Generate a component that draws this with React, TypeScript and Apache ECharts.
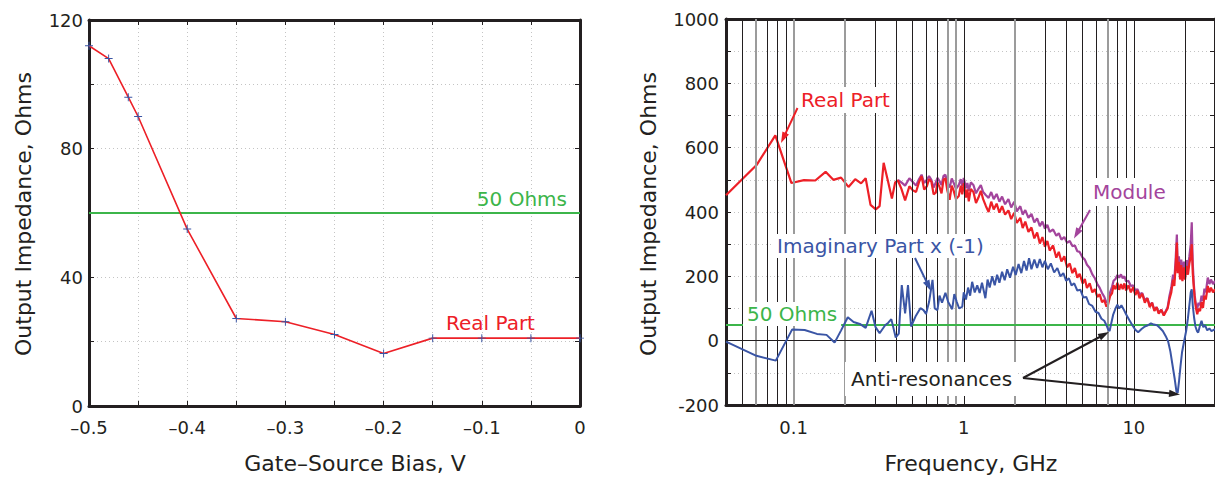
import React, { useEffect, useRef } from 'react';
import * as echarts from 'echarts';

// ---------- Left panel data ----------
const biasV = [-0.5, -0.48, -0.46, -0.45, -0.4, -0.35, -0.3, -0.25, -0.2, -0.15, -0.1, -0.05, 0];
const biasReal = [112, 108, 96, 90, 55, 27.2, 26.2, 22.2, 16.3, 21.1, 21.1, 21.1, 21.1];
const leftRefOhms = 60;

// ---------- Right panel data: [frequency GHz, Ohms] ----------
const realPart: [number, number][] = [
  [0.04, 452], [0.0605, 546], [0.078, 638], [0.097, 490], [0.115, 499], [0.134, 498], [0.154, 525], [0.171, 500],
  [0.19, 507], [0.21, 478], [0.23, 502], [0.249, 489], [0.265, 505], [0.283, 422], [0.304, 408], [0.32, 418],
  [0.338, 553], [0.358, 497], [0.378, 442], [0.395, 492], [0.41, 498], [0.43, 472], [0.452, 436], [0.479, 480],
  [0.5, 468], [0.524, 462], [0.545, 492], [0.565, 511], [0.585, 470], [0.607, 480], [0.625, 502], [0.645, 494],
  [0.665, 455], [0.685, 460], [0.7, 492], [0.72, 478], [0.74, 458], [0.76, 500], [0.78, 505], [0.8, 468],
  [0.826, 438], [0.85, 482], [0.87, 468], [0.9, 440], [0.935, 450], [0.96, 482], [0.98, 455], [1.0, 490],
  [1.03, 445], [1.05, 470], [1.07, 433], [1.1, 472], [1.14, 462], [1.18, 428], [1.22, 445], [1.26, 466],
  [1.3, 440], [1.35, 418], [1.4, 400], [1.45, 432], [1.5, 408], [1.56, 426], [1.62, 398], [1.68, 418],
  [1.75, 392], [1.83, 405], [1.9, 378], [1.98, 398], [2.05, 366], [2.15, 382], [2.22, 350], [2.3, 370],
  [2.4, 338], [2.5, 352], [2.6, 318], [2.7, 336], [2.8, 302], [2.9, 322], [3.0, 292], [3.1, 310],
  [3.2, 280], [3.35, 296], [3.5, 258], [3.62, 276], [3.75, 246], [3.9, 262], [4.05, 228], [4.2, 240],
  [4.35, 210], [4.5, 226], [4.65, 196], [4.8, 208], [5.0, 178], [5.15, 192], [5.3, 164], [5.5, 178],
  [5.7, 150], [5.9, 160], [6.1, 136], [6.3, 144], [6.5, 120], [6.7, 126], [6.9, 106], [7.05, 112],
  [7.25, 138], [7.45, 148], [7.6, 172], [7.8, 160], [8.0, 180], [8.2, 158], [8.4, 176], [8.6, 160],
  [8.8, 178], [9.0, 156], [9.3, 172], [9.6, 150], [9.9, 166], [10.2, 142], [10.5, 156], [10.8, 132],
  [11.2, 146], [11.6, 118], [12.0, 132], [12.4, 104], [12.8, 118], [13.2, 92], [13.6, 104], [14.0, 84],
  [14.5, 96], [15.0, 78], [15.4, 90], [15.8, 100], [16.2, 130], [16.6, 150], [17.0, 190], [17.3, 170],
  [17.6, 230], [17.9, 305], [18.1, 210], [18.4, 245], [18.7, 190], [19.0, 235], [19.3, 185], [19.7, 228],
  [20.0, 190], [20.4, 232], [20.8, 205], [21.2, 240], [21.6, 262], [21.9, 300], [22.2, 210], [22.5, 168],
  [22.8, 130], [23.2, 100], [23.6, 82], [24.0, 100], [24.5, 92], [25.0, 120], [25.5, 102], [26.0, 140],
  [26.5, 128], [27.2, 170], [27.8, 150], [28.4, 165], [29.2, 150], [30, 160],
];

const modulePart: [number, number][] = [
  [0.41, 500], [0.43, 492], [0.452, 482], [0.479, 505], [0.5, 494], [0.524, 482], [0.545, 502], [0.565, 516],
  [0.585, 490], [0.607, 500], [0.625, 512], [0.645, 500], [0.665, 476], [0.685, 492], [0.7, 506], [0.72, 496],
  [0.74, 484], [0.76, 512], [0.78, 516], [0.8, 492], [0.826, 476], [0.85, 504], [0.87, 492], [0.9, 472],
  [0.935, 484], [0.96, 502], [0.98, 480], [1.0, 506], [1.03, 474], [1.05, 490], [1.07, 466], [1.1, 492],
  [1.14, 484], [1.18, 458], [1.22, 472], [1.26, 484], [1.3, 462], [1.35, 452], [1.4, 444], [1.45, 462],
  [1.5, 440], [1.56, 456], [1.62, 432], [1.68, 448], [1.75, 424], [1.83, 440], [1.9, 414], [1.98, 432],
  [2.05, 402], [2.15, 418], [2.22, 392], [2.3, 406], [2.4, 382], [2.5, 394], [2.6, 368], [2.7, 380],
  [2.8, 356], [2.9, 370], [3.0, 348], [3.1, 360], [3.2, 338], [3.35, 346], [3.5, 326], [3.62, 334],
  [3.75, 314], [3.9, 322], [4.05, 304], [4.2, 310], [4.35, 294], [4.5, 296], [4.65, 278], [4.8, 276],
  [5.0, 258], [5.15, 252], [5.3, 236], [5.5, 226], [5.7, 206], [5.9, 194], [6.1, 176], [6.3, 164],
  [6.5, 148], [6.7, 136], [6.9, 118], [7.05, 122], [7.25, 150], [7.45, 168], [7.6, 186], [7.8, 192],
  [8.0, 204], [8.2, 196], [8.4, 206], [8.6, 194], [8.8, 200], [9.0, 184], [9.3, 186], [9.6, 170],
  [9.9, 172], [10.2, 156], [10.5, 160], [10.8, 144], [11.2, 148], [11.6, 126], [12.0, 132], [12.4, 110],
  [12.8, 118], [13.2, 96], [13.6, 104], [14.0, 88], [14.5, 96], [15.0, 80], [15.4, 92], [15.8, 104],
  [16.2, 140], [16.6, 165], [17.0, 205], [17.3, 190], [17.6, 250], [17.9, 330], [18.1, 230], [18.4, 262],
  [18.7, 212], [19.0, 252], [19.3, 208], [19.7, 246], [20.0, 214], [20.4, 250], [20.8, 228], [21.2, 262],
  [21.6, 300], [21.9, 368], [22.2, 240], [22.5, 180], [22.8, 140], [23.2, 110], [23.6, 100], [24.0, 118],
  [24.5, 110], [25.0, 140], [25.5, 124], [26.0, 162], [26.5, 150], [27.2, 196], [27.8, 176], [28.4, 190],
  [29.2, 176], [30, 186],
];

const imagPart: [number, number][] = [
  [0.04, -3], [0.0604, -47], [0.0785, -62], [0.098, 35], [0.116, 33], [0.137, 21], [0.156, 18], [0.174, -6],
  [0.19, 32], [0.208, 73], [0.225, 58], [0.245, 52], [0.265, 40], [0.287, 93], [0.303, 42], [0.32, 23],
  [0.345, 48], [0.36, 56], [0.375, 67], [0.398, 10], [0.415, 22], [0.432, 173], [0.452, 85], [0.47, 173],
  [0.49, 44], [0.52, 75], [0.556, 101], [0.58, 95], [0.6, 83], [0.625, 120], [0.655, 189], [0.675, 100],
  [0.7, 95], [0.72, 140], [0.745, 118], [0.78, 149], [0.81, 120], [0.855, 98], [0.88, 145], [0.91, 120],
  [0.94, 100], [0.98, 106], [1.0, 150], [1.03, 128], [1.06, 165], [1.09, 140], [1.12, 183], [1.16, 150],
  [1.2, 172], [1.24, 148], [1.28, 180], [1.34, 132], [1.38, 190], [1.42, 165], [1.47, 200], [1.52, 172],
  [1.57, 205], [1.62, 180], [1.68, 214], [1.74, 188], [1.8, 222], [1.87, 196], [1.95, 230], [2.02, 204],
  [2.1, 238], [2.18, 210], [2.26, 248], [2.34, 218], [2.42, 256], [2.5, 222], [2.6, 252], [2.7, 226],
  [2.8, 254], [2.9, 228], [3.0, 248], [3.12, 222], [3.25, 240], [3.4, 212], [3.55, 226], [3.7, 200],
  [3.85, 210], [4.0, 186], [4.15, 194], [4.3, 172], [4.46, 178], [4.65, 156], [4.85, 158], [5.05, 134],
  [5.25, 136], [5.45, 114], [5.7, 108], [5.95, 90], [6.2, 86], [6.45, 68], [6.7, 62], [6.9, 48],
  [7.05, 36], [7.2, 30], [7.35, 52], [7.55, 80], [7.8, 100], [8.0, 112], [8.2, 100], [8.45, 110],
  [8.7, 98], [9.0, 82], [9.4, 64], [9.8, 48], [10.2, 34], [10.6, 26], [11.1, 36], [11.6, 44],
  [12.1, 48], [12.6, 54], [13.1, 50], [13.7, 48], [14.2, 40], [14.8, 30], [15.4, 14], [15.9, -2],
  [16.4, -34], [16.9, -78], [17.4, -120], [17.8, -158], [18.1, -162], [18.4, -130], [18.8, -80], [19.2, -36],
  [19.7, -5], [20.3, 30], [20.8, 70], [21.3, 120], [21.6, 150], [21.9, 160], [22.2, 110], [22.6, 72],
  [23.0, 45], [23.5, 30], [23.9, 25], [24.5, 48], [25.0, 62], [25.6, 42], [26.2, 48], [27.0, 32],
  [27.8, 38], [28.6, 30], [30, 36],
];

const rightRefOhms = 50;
const freqGridBlack = [0.05, 0.07, 0.08, 0.09, 0.3, 0.4, 0.5, 0.6, 0.7, 1, 3, 4, 5, 6, 8, 9, 10, 20];
const freqGridGray = [0.06, 0.1, 0.2, 0.8, 0.9, 2, 7];
const freqLabels: Record<string, string> = { '-1': '0.1', '0': '1', '1': '10' };

// ---------- styling ----------
const FONT = '"DejaVu Sans", Verdana, sans-serif';
const INK = '#231f20';
const RED = '#ed2027';
const BLUE = '#3a55a5';
const PURPLE = '#a3449c';
const GREEN = '#3cb54a';
const FRAME = { lineStyle: { color: INK, width: 3 }, onZero: false };
const TICK_IN = { show: true, inside: true, length: 5, lineStyle: { color: INK, width: 1 } };
const DOTTED = { show: true, lineStyle: { color: '#c4c4c4', width: 1, type: [1, 3] as any } };

function text(t: string, x: number, y: number, color: string, opts: any = {}) {
  const pad = opts.pad ?? [2, 4];
  const align = opts.align ?? 'left';
  return {
    type: 'text',
    z: 50,
    x,
    y,
    rotation: opts.rotation ?? 0,
    style: {
      text: t,
      fill: color,
      fontSize: opts.size ?? 20,
      fontFamily: FONT,
      align,
      textAlign: align,
      verticalAlign: 'middle',
      textVerticalAlign: 'middle',
      backgroundColor: opts.bg === false ? undefined : '#ffffff',
      padding: opts.bg === false ? 0 : pad,
    },
  };
}

function arrow(x1: number, y1: number, x2: number, y2: number, color: string) {
  const dx = x2 - x1, dy = y2 - y1;
  const L = Math.hypot(dx, dy);
  const ux = dx / L, uy = dy / L;
  const hl = 11, hw = 3.6;
  const bx = x2 - ux * hl, by = y2 - uy * hl;
  return [
    { type: 'line', z: 60, shape: { x1, y1, x2: bx + ux * 2, y2: by + uy * 2 }, style: { stroke: color, lineWidth: 2 } },
    {
      type: 'polygon', z: 60,
      shape: { points: [[x2, y2], [bx - uy * hw, by + ux * hw], [bx + uy * hw, by - ux * hw]] },
      style: { fill: color },
    },
  ];
}

export default function App() {
  const ref = useRef<HTMLDivElement>(null);

  useEffect(() => {
    if (!ref.current) return;
    const chart = echarts.init(ref.current, undefined, { renderer: 'svg' });

    const vLines = [
      ...freqGridBlack.map((f) => ({ xAxis: f, lineStyle: { color: INK, width: 1, type: 'solid' } })),
      ...freqGridGray.map((f) => ({ xAxis: f, lineStyle: { color: '#9b9b9b', width: 2, type: 'solid' } })),
    ];

    const option: any = {
      animation: false,
      backgroundColor: '#ffffff',
      grid: [
        { left: 89, top: 20, width: 491, height: 386 },
        { left: 726, top: 19, width: 493, height: 386 },
      ],
      xAxis: [
        {
          gridIndex: 0, type: 'value', min: -0.5, max: 0, interval: 0.05, position: 'bottom',
          axisLine: FRAME, axisTick: TICK_IN, splitLine: DOTTED,
          axisLabel: {
            margin: 12, color: INK, fontSize: 18, fontFamily: FONT,
            formatter: (v: number) => {
              if (Math.abs(v * 10 - Math.round(v * 10)) > 1e-6) return '';
              if (Math.abs(v) < 1e-9) return '0';
              return '\u2013' + Math.abs(v).toFixed(1);
            },
          },
        },
        {
          gridIndex: 0, type: 'value', min: -0.5, max: 0, interval: 0.05, position: 'top',
          axisLine: FRAME, axisTick: TICK_IN, splitLine: { show: false }, axisLabel: { show: false },
        },
        {
          gridIndex: 1, type: 'log', logBase: 10, min: 0.04, max: 30, position: 'bottom',
          axisLine: FRAME, axisTick: { show: false }, splitLine: { show: false },
          axisLabel: {
            margin: 13, color: INK, fontSize: 18, fontFamily: FONT, showMinLabel: false, showMaxLabel: false,
            formatter: (v: number) => {
              const l = Math.log10(v);
              const r = Math.round(l);
              if (Math.abs(l - r) > 1e-6) return '';
              return freqLabels[String(r)] ?? '';
            },
          },
        },
        {
          gridIndex: 1, type: 'log', logBase: 10, min: 0.04, max: 30, position: 'top',
          axisLine: FRAME, axisTick: { show: false }, splitLine: { show: false }, axisLabel: { show: false },
        },
      ],
      yAxis: [
        {
          gridIndex: 0, type: 'value', min: 0, max: 120, interval: 20, position: 'left',
          axisLine: FRAME, axisTick: TICK_IN, splitLine: DOTTED,
          axisLabel: {
            margin: 6, color: INK, fontSize: 18, fontFamily: FONT,
            formatter: (v: number) => (v % 40 === 0 ? String(v) : ''),
          },
        },
        {
          gridIndex: 0, type: 'value', min: 0, max: 120, interval: 20, position: 'right',
          axisLine: FRAME, axisTick: TICK_IN, splitLine: { show: false }, axisLabel: { show: false },
        },
        {
          gridIndex: 1, type: 'value', min: -200, max: 1000, interval: 100, position: 'left',
          axisLine: FRAME, axisTick: TICK_IN, splitLine: DOTTED,
          axisLabel: {
            margin: 7, color: INK, fontSize: 18, fontFamily: FONT,
            formatter: (v: number) => (v % 200 === 0 ? String(v) : ''),
          },
        },
        {
          gridIndex: 1, type: 'value', min: -200, max: 1000, interval: 100, position: 'right',
          axisLine: FRAME, axisTick: TICK_IN, splitLine: { show: false }, axisLabel: { show: false },
        },
      ],
      series: [
        // ---- left panel ----
        {
          type: 'line', xAxisIndex: 0, yAxisIndex: 0, z: 2, silent: true, symbol: 'none',
          data: [[-0.5, leftRefOhms], [0, leftRefOhms]],
          lineStyle: { color: GREEN, width: 2 },
        },
        {
          type: 'line', xAxisIndex: 0, yAxisIndex: 0, z: 3,
          data: biasV.map((v, i) => [v, biasReal[i]]),
          symbol: 'path://M-0.6,-5H0.6V-0.6H5V0.6H0.6V5H-0.6V0.6H-5V-0.6H-0.6Z',
          symbolSize: 8,
          showSymbol: true,
          itemStyle: { color: BLUE },
          lineStyle: { color: RED, width: 1.6 },
        },
        // ---- right panel grid lines ----
        {
          type: 'line', xAxisIndex: 2, yAxisIndex: 2, z: 1, data: [], silent: true,
          markLine: {
            silent: true, symbol: ['none', 'none'], label: { show: false }, animation: false,
            data: [
              ...vLines,
              { yAxis: 0, lineStyle: { color: INK, width: 1, type: 'solid' } },
              { yAxis: rightRefOhms, lineStyle: { color: GREEN, width: 2, type: 'solid' } },
            ],
          },
        },
        {
          type: 'line', xAxisIndex: 2, yAxisIndex: 2, z: 3, data: modulePart, symbol: 'none',
          lineStyle: { color: PURPLE, width: 2.2 },
        },
        {
          type: 'line', xAxisIndex: 2, yAxisIndex: 2, z: 4, data: realPart, symbol: 'none',
          lineStyle: { color: RED, width: 2.2 },
        },
        {
          type: 'line', xAxisIndex: 2, yAxisIndex: 2, z: 5, data: imagPart, symbol: 'none',
          lineStyle: { color: BLUE, width: 2 },
        },
      ],
      graphic: [
        // axis titles
        text('Output Impedance, Ohms', 23, 214, INK, { size: 22, align: 'center', rotation: Math.PI / 2, bg: false }),
        text('Gate\u2013Source Bias, V', 355, 463, INK, { size: 22, align: 'center', bg: false }),
        text('Output Impedance, Ohms', 648, 214, INK, { size: 22, align: 'center', rotation: Math.PI / 2, bg: false }),
        text('Frequency, GHz', 971, 463, INK, { size: 22, align: 'center', bg: false }),
        // left annotations
        text('50 Ohms', 567, 199, GREEN, { align: 'right', bg: false }),
        text('Real Part', 446, 323, RED, { bg: false }),
        // right annotations
        text('Real Part', 797, 100, RED, { pad: [3, 4] }),
        text('Imaginary Part x (-1)', 773, 246, BLUE, { pad: [2, 4] }),
        text('Module', 1089, 192, PURPLE, { pad: [4, 4] }),
        text('50 Ohms', 743, 314, GREEN, { pad: [2, 4] }),
        text('Anti-resonances', 845, 379, INK, { pad: [7, 6] }),
        ...arrow(797.5, 108, 781, 143, RED),
        ...arrow(915, 258, 931, 291, BLUE),
        ...arrow(1090, 210, 1074, 238.5, PURPLE),
        ...arrow(1023, 378, 1109, 332, INK),
        ...arrow(1023, 378, 1180, 394.5, INK),
      ],
    };

    chart.setOption(option);
    return () => chart.dispose();
  }, []);

  return (
    <div
      ref={ref}
      style={{ position: 'fixed', left: 0, top: 0, width: 1215, height: 477, background: '#fff' }}
    />
  );
}
